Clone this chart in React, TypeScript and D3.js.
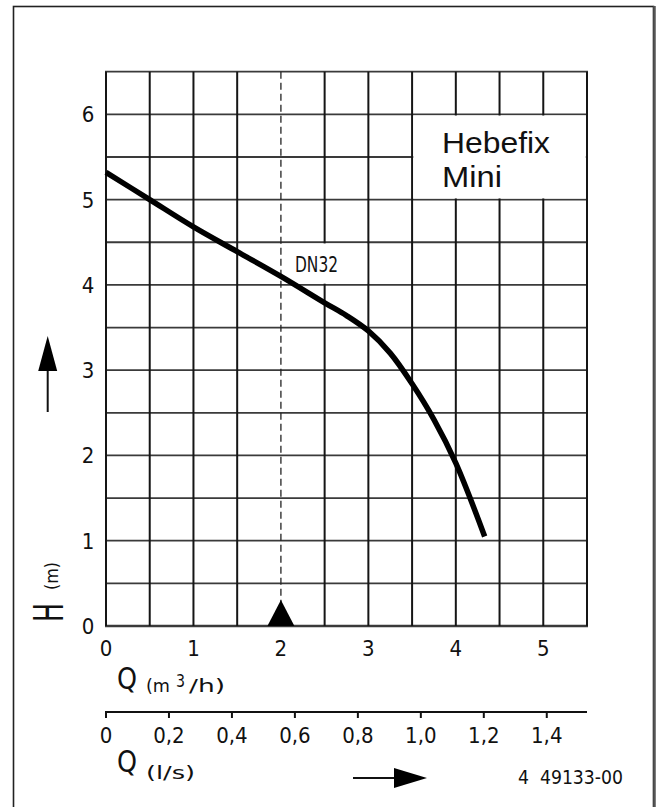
import React from "react";
import * as d3 from "d3";

// pump curve (Q in m³/h, H in m)
const flowM3h = [0, 0.5, 1.0, 1.5, 2.0, 2.5, 2.75, 3.0, 3.25, 3.5, 3.75, 4.0, 4.33];
const headM = [5.32, 5.0, 4.68, 4.39, 4.1, 3.79, 3.64, 3.46, 3.2, 2.84, 2.42, 1.91, 1.05];

const headTicks = [0, 1, 2, 3, 4, 5, 6];
const flowTicks = [0, 1, 2, 3, 4, 5];
const flowLsTicks = [0, 0.2, 0.4, 0.6, 0.8, 1.0, 1.2, 1.4];
const flowLsLabels = ["0", "0,2", "0,4", "0,6", "0,8", "1,0", "1,2", "1,4"];

const dutyPoint = 2; // m³/h, marked with dashed line + triangle
const curveLabel = "DN32";
const titleLines = ["Hebefix", "Mini"];
const docNumber = "4  49133-00";

const W = 656;
const H = 807;
const tech = "'DejaVu Sans Condensed', 'Liberation Sans Narrow', 'DejaVu Sans', sans-serif";

const App = () => {
  const x = d3.scaleLinear().domain([0, 5.5]).range([106, 587]);
  const y = d3.scaleLinear().domain([0, 6.5]).range([626, 71.7]);
  const xLs = d3.scaleLinear().domain([0, 5.5 / 3.6]).range([106, 587]);

  const gridQ = d3.range(0, 5.51, 0.5).filter((q) => Math.abs(q - dutyPoint) > 0.01);
  const gridH = d3.range(0, 6.51, 0.5);

  const line = d3
    .line<number>()
    .x((d, i) => x(flowM3h[i]))
    .y((d) => y(d))
    .curve(d3.curveCatmullRom.alpha(0.5));

  const tx = x(dutyPoint);
  const ty = y(0);
  const axis2Y = 712;

  return (
    <svg width={W} height={H} style={{ position: "absolute", left: 0, top: 0, background: "#fff" }}>
      <rect x={0} y={0} width={W} height={H} fill="#fff" />
      {/* frame */}
      <rect x={13.5} y={6.5} width={640} height={H + 20} fill="none" stroke="#222" strokeWidth={1.6} />
      <line x1={654.5} x2={654.5} y1={6} y2={H} stroke="#555" strokeWidth={2.5} />

      {/* grid */}
      {gridH.map((h) => (
        <line key={"h" + h} x1={x(0) - 1} x2={x(5.5) + 1} y1={y(h)} y2={y(h)} stroke="#3a3a3a" strokeWidth={h === 0 ? 2.4 : 1.8} />
      ))}
      {gridQ.map((q) => (
        <line key={"v" + q} x1={x(q)} x2={x(q)} y1={y(0)} y2={y(6.5)} stroke="#151515" strokeWidth={2} />
      ))}

      {/* white label boxes */}
      <rect x={x(3.5) + 1.2} y={y(6) + 1.2} width={x(5.5) - x(3.5) - 2.4} height={y(5) - y(6) - 2.4} fill="#fff" />
      <rect x={x(2) + 1} y={y(4.5) + 1.2} width={x(3) - x(2) - 2.2} height={y(4) - y(4.5) - 2.4} fill="#fff" />

      {/* duty point */}
      <line x1={tx} x2={tx} y1={y(6.5)} y2={y(0)} stroke="#222" strokeWidth={1.3} strokeDasharray="7,4" />
      <path d={`M${tx},${ty - 26} L${tx + 13.5},${ty} L${tx - 13.5},${ty} Z`} fill="#000" />

      {/* curve */}
      <path d={line(headM) || ""} fill="none" stroke="#000" strokeWidth={5.5} />

      <text x={295} y={272} fontFamily={tech} fontSize={21} textLength={43} lengthAdjust="spacingAndGlyphs" fill="#111">
        {curveLabel}
      </text>

      <g fontFamily="'Liberation Sans', Arial, sans-serif" fontSize={30} fill="#111">
        <text x={442} y={153} textLength={108} lengthAdjust="spacingAndGlyphs">{titleLines[0]}</text>
        <text x={442} y={187} textLength={60} lengthAdjust="spacingAndGlyphs">{titleLines[1]}</text>
      </g>

      {/* tick labels */}
      <g fontFamily={tech} fontSize={22} fill="#111" textAnchor="middle">
        {headTicks.map((h) => (
          <text key={h} x={88} y={y(h) + 8}>{h}</text>
        ))}
        {flowTicks.map((q) => (
          <text key={q} x={x(q)} y={656}>{q}</text>
        ))}
      </g>

      {/* H axis title + arrow */}
      <line x1={47.7} x2={47.7} y1={412} y2={368} stroke="#111" strokeWidth={2} />
      <path d="M47.7,336 L57.2,371 L38.2,371 Z" fill="#000" />
      <text transform="translate(63,622) rotate(-90)" fontFamily={tech} fontSize={40} textLength={19} lengthAdjust="spacingAndGlyphs" fill="#111">H</text>
      <text transform="translate(58,590) rotate(-90)" fontFamily={tech} fontSize={17} textLength={28} lengthAdjust="spacingAndGlyphs" fill="#111">(m)</text>

      {/* Q m³/h title */}
      <text x={117} y={689} fontFamily={tech} fontSize={30} textLength={20} lengthAdjust="spacingAndGlyphs" fill="#111">Q</text>
      <g fontFamily={tech} fontSize={17} fill="#111">
        <text x={146} y={692} textLength={24} lengthAdjust="spacingAndGlyphs">(m</text>
        <text x={176} y={687} textLength={9} lengthAdjust="spacingAndGlyphs">3</text>
        <text x={189} y={692} textLength={36} lengthAdjust="spacingAndGlyphs">/h)</text>
      </g>

      {/* second axis l/s */}
      <line x1={xLs(0) - 1} x2={x(5.5)} y1={axis2Y} y2={axis2Y} stroke="#111" strokeWidth={2} />
      {flowLsTicks.map((v) => (
        <line key={v} x1={xLs(v)} x2={xLs(v)} y1={axis2Y} y2={axis2Y + 6} stroke="#111" strokeWidth={2} />
      ))}
      <g fontFamily={tech} fontSize={22} fill="#111" textAnchor="middle">
        {flowLsTicks.map((v, i) => (
          <text key={v} x={xLs(v)} y={743}>{flowLsLabels[i]}</text>
        ))}
      </g>
      <text x={117} y={772} fontFamily={tech} fontSize={30} textLength={20} lengthAdjust="spacingAndGlyphs" fill="#111">Q</text>
      <text x={146} y={779} fontFamily={tech} fontSize={17} textLength={49} lengthAdjust="spacingAndGlyphs" fill="#111">(l/s)</text>

      {/* flow arrow */}
      <line x1={353} x2={396} y1={778} y2={778} stroke="#111" strokeWidth={2} />
      <path d="M427,778 L394,768 L394,788 Z" fill="#000" />

      <text x={518} y={784} fontFamily={tech} fontSize={20} textLength={105} lengthAdjust="spacingAndGlyphs" fill="#111" style={{ whiteSpace: "pre" }}>
        {docNumber}
      </text>
    </svg>
  );
};

export default App;
